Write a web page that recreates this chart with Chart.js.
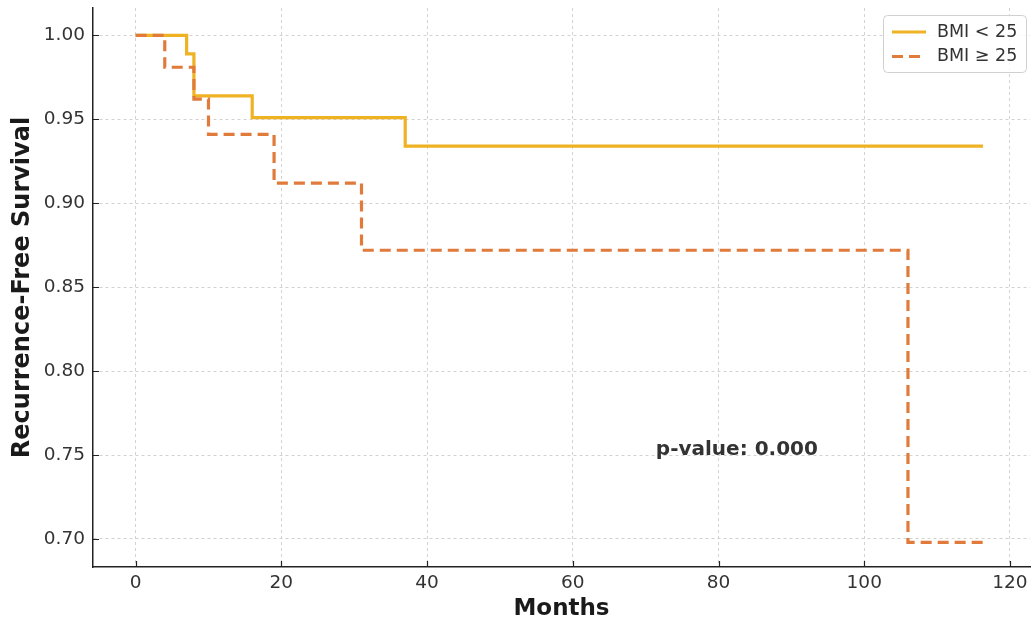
<!DOCTYPE html>
<html>
<head>
<meta charset="utf-8">
<script src="https://cdn.jsdelivr.net/npm/chart.js@4.4.1/dist/chart.umd.min.js"></script>
<style>
  html, body { margin: 0; padding: 0; background: #ffffff; }
  #wrap { width: 1035px; height: 628px; position: relative; }
</style>
</head>
<body>
<div id="wrap"><canvas id="c" width="1035" height="628"></canvas></div>
<script>
// ---- Data ----
const lowBmiLabel = 'BMI < 25';
const lowBmiMonths = [0, 7, 8, 16, 37, 116.3];
const lowBmiSurvival = [1.0, 0.989, 0.964, 0.951, 0.934, 0.934];

const highBmiLabel = 'BMI \u2265 25';
const highBmiMonths = [0, 4, 8, 10, 19, 31, 106, 117];
const highBmiSurvival = [1.0, 0.981, 0.962, 0.941, 0.912, 0.872, 0.698, 0.698];

const xTickValues = [0, 20, 40, 60, 80, 100, 120];
const yTickValues = [0.70, 0.75, 0.80, 0.85, 0.90, 0.95, 1.00];

const xTitle = 'Months';
const yTitle = 'Recurrence-Free Survival';
const pValueText = 'p-value: 0.000';
const pValueAt = { x: 71.4, y: 0.75 };

// ---- Styles ----
const yellow = '#EFB223';
const orange = '#E07B3C';
const textColor = '#333333';
const gridColor = '#d2d2d2';
const fontFamily = '"DejaVu Sans", Arial, sans-serif';

function toPoints(xs, ys) { return xs.map((x, i) => ({ x: x, y: ys[i] })); }

const inwardTicks = {
  id: 'inwardTicks',
  afterDatasetsDraw(chart) {
    const { ctx, chartArea, scales } = chart;
    ctx.save();
    ctx.strokeStyle = '#222';
    ctx.lineWidth = 1.2;
    ctx.beginPath();
    scales.x.ticks.forEach(t => {
      const px = Math.round(scales.x.getPixelForValue(t.value)) + 0.5;
      ctx.moveTo(px, chartArea.bottom);
      ctx.lineTo(px, chartArea.bottom - 6);
    });
    scales.y.ticks.forEach(t => {
      const py = Math.round(scales.y.getPixelForValue(t.value)) + 0.5;
      ctx.moveTo(chartArea.left, py);
      ctx.lineTo(chartArea.left + 6, py);
    });
    ctx.stroke();
    ctx.restore();
  }
};

const annotationText = {
  id: 'annotationText',
  afterDatasetsDraw(chart) {
    const { ctx, scales } = chart;
    ctx.save();
    ctx.font = 'bold 20px ' + fontFamily;
    ctx.fillStyle = textColor;
    ctx.textAlign = 'left';
    ctx.textBaseline = 'alphabetic';
    ctx.fillText(pValueText, scales.x.getPixelForValue(pValueAt.x), scales.y.getPixelForValue(pValueAt.y));
    ctx.restore();
  }
};

const customLegend = {
  id: 'customLegend',
  afterDraw(chart) {
    const { ctx, chartArea } = chart;
    const w = 143, h = 57;
    const x0 = chartArea.right - 4 - w, y0 = chartArea.top + 7;
    ctx.save();
    ctx.fillStyle = 'rgba(255,255,255,0.85)';
    ctx.strokeStyle = '#d0d0d0';
    ctx.lineWidth = 1;
    ctx.beginPath();
    ctx.roundRect(x0 + 0.5, y0 + 0.5, w, h, 4);
    ctx.fill();
    ctx.stroke();
    chart.data.datasets.forEach((ds, i) => {
      const cy = y0 + 17 + i * 24.5;
      ctx.strokeStyle = ds.borderColor;
      ctx.lineWidth = ds.borderWidth;
      ctx.setLineDash(ds.borderDash || []);
      ctx.beginPath();
      ctx.moveTo(x0 + 9, cy);
      ctx.lineTo(x0 + 43, cy);
      ctx.stroke();
      ctx.setLineDash([]);
      ctx.fillStyle = textColor;
      ctx.font = '17.5px ' + fontFamily;
      ctx.textAlign = 'left';
      ctx.textBaseline = 'middle';
      ctx.fillText(ds.label, x0 + 54, cy);
    });
    ctx.restore();
  }
};

new Chart(document.getElementById('c'), {
  type: 'line',
  data: {
    datasets: [
      {
        label: lowBmiLabel,
        data: toPoints(lowBmiMonths, lowBmiSurvival),
        borderColor: yellow,
        borderWidth: 3.2,
        stepped: 'before',
        pointRadius: 0,
        fill: false,
        order: 1
      },
      {
        label: highBmiLabel,
        data: toPoints(highBmiMonths, highBmiSurvival),
        borderColor: orange,
        borderWidth: 3.2,
        borderDash: [11, 6],
        stepped: 'before',
        pointRadius: 0,
        fill: false,
        order: 0
      }
    ]
  },
  options: {
    responsive: false,
    animation: false,
    layout: { padding: { top: 8, right: 5, left: 0, bottom: 0 } },
    plugins: { legend: { display: false }, tooltip: { enabled: false } },
    scales: {
      x: {
        type: 'linear',
        min: -5.85,
        max: 122.75,
        afterBuildTicks(scale) { scale.ticks = xTickValues.map(v => ({ value: v })); },
        afterFit(scale) { scale.height = 61; scale.paddingLeft = 0; scale.paddingRight = 0; },
        ticks: {
          includeBounds: false,
          padding: 5,
          color: textColor,
          font: { family: fontFamily, size: 18.5 },
          callback: v => String(v)
        },
        grid: { color: gridColor, lineWidth: 1, drawTicks: false },
        border: { display: true, color: '#222', width: 1.5, dash: [3, 3] },
        title: {
          display: true,
          text: xTitle,
          color: '#1a1a1a',
          font: { family: fontFamily, size: 23, weight: 'bold' },
          padding: { top: 0, bottom: 5 }
        }
      },
      y: {
        type: 'linear',
        min: 0.6833,
        max: 1.0163,
        afterBuildTicks(scale) { scale.ticks = yTickValues.map(v => ({ value: v })); },
        afterFit(scale) { scale.width = 93; scale.paddingTop = 0; scale.paddingBottom = 0; },
        ticks: {
          includeBounds: false,
          padding: 8,
          color: textColor,
          font: { family: fontFamily, size: 18.5 },
          callback: v => Number(v).toFixed(2)
        },
        grid: { color: gridColor, lineWidth: 1, drawTicks: false },
        border: { display: true, color: '#222', width: 1.5, dash: [3, 3] },
        title: {
          display: true,
          text: yTitle,
          color: '#1a1a1a',
          font: { family: fontFamily, size: 24, weight: 'bold' },
          padding: { top: 8, bottom: 0 }
        }
      }
    }
  },
  plugins: [inwardTicks, annotationText, customLegend]
});
</script>
</body>
</html>
